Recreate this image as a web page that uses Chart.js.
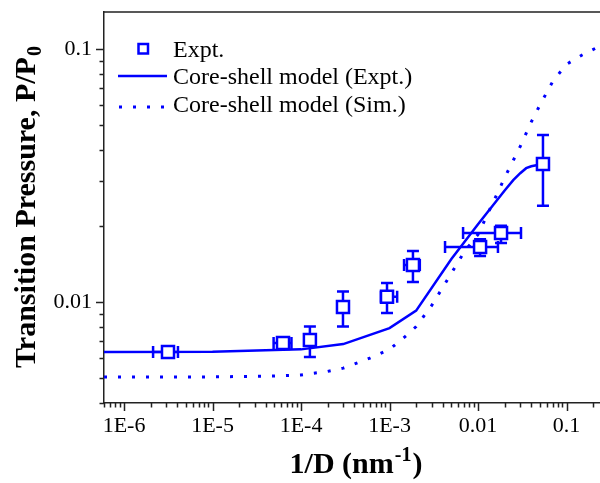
<!DOCTYPE html>
<html>
<head>
<meta charset="utf-8">
<script src="https://cdn.jsdelivr.net/npm/chart.js@4.4.0/dist/chart.umd.min.js"></script>
<style>
  html, body { margin: 0; padding: 0; background: #fff; }
</style>
</head>
<body>
<canvas id="chart" width="600" height="483"></canvas>
<script>
// experimental points, 1/D (nm^-1) vs P/P0, with error bars
var exptX   = [3.14e-6, 6.26e-5, 1.26e-4, 2.98e-4, 9.37e-4, 1.84e-3, 1.055e-2, 1.82e-2, 5.42e-2];
var exptY   = [0.00634, 0.00689, 0.00708, 0.00955, 0.0105, 0.0140, 0.0165, 0.01875, 0.0351];
var exptXLo = [2.13e-6, 4.9e-5, null, null, 8.0e-4, 1.46e-3, 4.24e-3, 6.78e-3, null];
var exptXHi = [4.07e-6, 7.8e-5, null, null, 1.22e-3, 2.2e-3, 1.68e-2, 3.06e-2, null];
var exptYLo = [null, 0.0066, 0.00607, 0.0080, 0.00905, 0.0120, 0.0152, 0.0171, 0.0240];
var exptYHi = [null, 0.0072, 0.0080, 0.0110, 0.0119, 0.0159, 0.0177, 0.0200, 0.0457];

// core-shell model fitted to experiment
var modelX = [5.94e-7, 1e-5, 1e-4, 3e-4, 1e-3, 2e-3, 5e-3, 0.01, 0.02, 0.025, 0.03, 0.035, 0.04, 0.047, 0.054];
var modelY = [0.00634, 0.00636, 0.0065, 0.00682, 0.00789, 0.00925, 0.0148, 0.0203, 0.0276, 0.0303, 0.0323, 0.0338, 0.0344, 0.0348, 0.0351];

// core-shell model from simulation
var simX = [5.94e-7, 1e-5, 5e-5, 1e-4, 2e-4, 3e-4, 6e-4, 1e-3, 1.5e-3, 2e-3, 3e-3, 5e-3, 7e-3, 0.01, 0.015, 0.02, 0.03, 0.04, 0.05, 0.07, 0.1, 0.15, 0.24];
var simY = [0.00506, 0.00506, 0.0051, 0.00515, 0.00532, 0.00548, 0.0060, 0.0065, 0.0073, 0.0080, 0.0097, 0.0130, 0.0158, 0.0185, 0.0250, 0.0310, 0.0412, 0.0515, 0.0600, 0.0745, 0.0870, 0.0947, 0.1028];

var xMajorTicks  = [1e-6, 1e-5, 1e-4, 1e-3, 0.01, 0.1];
var xMajorLabels = ['1E-6', '1E-5', '1E-4', '1E-3', '0.01', '0.1'];
var yMajorTicks  = [0.01, 0.1];
var yMajorLabels = ['0.01', '0.1'];

var seriesLabels = ['Expt.', 'Core-shell model (Expt.)', 'Core-shell model (Sim.)'];

var BLUE = '#0000ff';
var AXIS = '#222';
var SERIF = "'Liberation Serif', 'Times New Roman', serif";
var simDash = [3, 11];

function toPoints(xs, ys) {
  return xs.map(function(x, i) { return {x: x, y: ys[i]}; });
}

// 1..9 x 10^n ticks inside [min, max]
function logTicks(min, max) {
  var out = [];
  for (var e = Math.floor(Math.log10(min)); e <= Math.ceil(Math.log10(max)); e++) {
    for (var m = 1; m < 10; m++) {
      var v = m * Math.pow(10, e);
      if (v >= min * 0.9999 && v <= max * 1.0001) out.push({value: v, major: m === 1});
    }
  }
  return out;
}

function majorLabel(value, ticks, labels) {
  for (var i = 0; i < ticks.length; i++) {
    if (Math.abs(Math.log10(value) - Math.log10(ticks[i])) < 1e-6) return labels[i];
  }
  return '';
}

// keep the plot box fixed: no extra room for edge labels
function noEdgePadding(scale) {
  scale.paddingTop = 0;
  scale.paddingBottom = 0;
  scale.paddingLeft = 0;
  scale.paddingRight = 0;
}

var decor = {
  id: 'decor',
  beforeDatasetsDraw: function(chart) {
    var ctx = chart.ctx, xs = chart.scales.x, ys = chart.scales.y;
    ctx.save();
    ctx.strokeStyle = BLUE;
    ctx.lineWidth = 2.5;
    for (var i = 0; i < exptX.length; i++) {
      var px = xs.getPixelForValue(exptX[i]), py = ys.getPixelForValue(exptY[i]);
      ctx.beginPath();
      if (exptYLo[i] != null) {
        var y1 = ys.getPixelForValue(exptYLo[i]), y2 = ys.getPixelForValue(exptYHi[i]);
        ctx.moveTo(px, y1); ctx.lineTo(px, y2);
        ctx.moveTo(px - 6, y1); ctx.lineTo(px + 6, y1);
        ctx.moveTo(px - 6, y2); ctx.lineTo(px + 6, y2);
      }
      if (exptXLo[i] != null) {
        var x1 = xs.getPixelForValue(exptXLo[i]), x2 = xs.getPixelForValue(exptXHi[i]);
        ctx.moveTo(x1, py); ctx.lineTo(x2, py);
        ctx.moveTo(x1, py - 6); ctx.lineTo(x1, py + 6);
        ctx.moveTo(x2, py - 6); ctx.lineTo(x2, py + 6);
      }
      ctx.stroke();
    }
    ctx.restore();
  },
  afterDraw: function(chart) {
    var ctx = chart.ctx, area = chart.chartArea;
    var xs = chart.scales.x, ys = chart.scales.y;
    ctx.save();

    // outward tick marks, minor ones shorter
    ctx.strokeStyle = AXIS;
    ctx.lineWidth = 1.5;
    ctx.beginPath();
    xs.ticks.forEach(function(t) {
      var p = Math.round(xs.getPixelForValue(t.value)) + 0.5;
      ctx.moveTo(p, area.bottom); ctx.lineTo(p, area.bottom + (t.major ? 8 : 4.5));
    });
    ys.ticks.forEach(function(t) {
      var p = Math.round(ys.getPixelForValue(t.value)) + 0.5;
      ctx.moveTo(area.left, p); ctx.lineTo(area.left - (t.major ? 8 : 4.5), p);
    });
    // top frame line
    ctx.moveTo(area.left, area.top); ctx.lineTo(area.right, area.top);
    ctx.stroke();

    // axis titles with sub/superscripts
    ctx.fillStyle = '#000';
    ctx.textBaseline = 'alphabetic';
    var big = 'bold 30px ' + SERIF, small = 'bold 20px ' + SERIF;

    ctx.font = big;
    var a = '1/D (nm', c = ')';
    var wa = ctx.measureText(a).width, wc = ctx.measureText(c).width;
    ctx.font = small;
    var wb = ctx.measureText('-1').width;
    var cx = (area.left + area.right) / 2 + 3;
    var x0 = cx - (wa + wb + wc) / 2, base = 473;
    ctx.font = big; ctx.fillText(a, x0, base);
    ctx.font = small; ctx.fillText('-1', x0 + wa + 1, base - 12);
    ctx.font = big; ctx.fillText(c, x0 + wa + wb + 2, base);

    ctx.save();
    ctx.translate(35, (area.top + area.bottom) / 2);
    ctx.rotate(-Math.PI / 2);
    ctx.font = big;
    var ya = 'Transition Pressure, P/P';
    var wya = ctx.measureText(ya).width;
    ctx.font = small;
    var wyb = ctx.measureText('0').width;
    var y0 = -(wya + wyb) / 2;
    ctx.font = big; ctx.fillText(ya, y0, 0);
    ctx.font = small; ctx.fillText('0', y0 + wya + 1, 6);
    ctx.restore();

    // legend
    ctx.font = '24px ' + SERIF;
    ctx.fillText(seriesLabels[0], 173, 57);
    ctx.fillText(seriesLabels[1], 173, 84);
    ctx.fillText(seriesLabels[2], 173, 112);
    ctx.strokeStyle = BLUE;
    ctx.lineWidth = 2.5;
    ctx.fillStyle = '#fff';
    ctx.fillRect(138.5, 44, 9.5, 9.5);
    ctx.strokeRect(138.5, 44, 9.5, 9.5);
    ctx.beginPath();
    ctx.moveTo(118, 76); ctx.lineTo(167, 76);
    ctx.stroke();
    ctx.lineWidth = 3;
    ctx.setLineDash(simDash);
    ctx.beginPath();
    ctx.moveTo(119, 107); ctx.lineTo(167, 107);
    ctx.stroke();
    ctx.restore();
  }
};

new Chart(document.getElementById('chart'), {
  type: 'scatter',
  data: {
    datasets: [
      {
        label: seriesLabels[0],
        data: toPoints(exptX, exptY),
        pointStyle: 'rect',
        pointRadius: 8.5,
        pointBorderWidth: 2.5,
        borderColor: BLUE,
        backgroundColor: '#fff',
        order: 0
      },
      {
        label: seriesLabels[1],
        data: toPoints(modelX, modelY),
        showLine: true,
        pointRadius: 0,
        borderColor: BLUE,
        borderWidth: 2.5,
        tension: 0,
        order: 1
      },
      {
        label: seriesLabels[2],
        data: toPoints(simX, simY),
        showLine: true,
        pointRadius: 0,
        borderColor: BLUE,
        borderWidth: 3,
        borderDash: simDash,
        tension: 0,
        order: 2
      }
    ]
  },
  options: {
    responsive: false,
    animation: false,
    devicePixelRatio: 1,
    layout: { autoPadding: false, padding: { top: 12, right: 0, left: 0, bottom: 0 } },
    plugins: { legend: { display: false }, tooltip: { enabled: false } },
    scales: {
      x: {
        type: 'logarithmic',
        min: 5.94e-7,
        max: 0.239,
        afterBuildTicks: function(scale) { scale.ticks = logTicks(scale.min, scale.max); },
        afterFit: function(scale) { scale.height = 80; noEdgePadding(scale); },
        grid: { drawOnChartArea: false, color: 'rgba(0,0,0,0)', tickLength: 8 },
        border: { display: true, color: AXIS, width: 1.5 },
        ticks: {
          autoSkip: false,
          maxRotation: 0,
          padding: 2,
          color: '#000',
          font: { family: SERIF, size: 22 },
          callback: function(v) { return majorLabel(v, xMajorTicks, xMajorLabels); }
        }
      },
      y: {
        type: 'logarithmic',
        min: 0.00399,
        max: 0.140,
        afterBuildTicks: function(scale) { scale.ticks = logTicks(scale.min, scale.max); },
        afterFit: function(scale) { scale.width = 104; noEdgePadding(scale); },
        grid: { drawOnChartArea: false, color: 'rgba(0,0,0,0)', tickLength: 8 },
        border: { display: true, color: AXIS, width: 1.5 },
        ticks: {
          autoSkip: false,
          padding: 4,
          color: '#000',
          font: { family: SERIF, size: 22 },
          callback: function(v) { return majorLabel(v, yMajorTicks, yMajorLabels); }
        }
      }
    }
  },
  plugins: [decor]
});
</script>
</body>
</html>
